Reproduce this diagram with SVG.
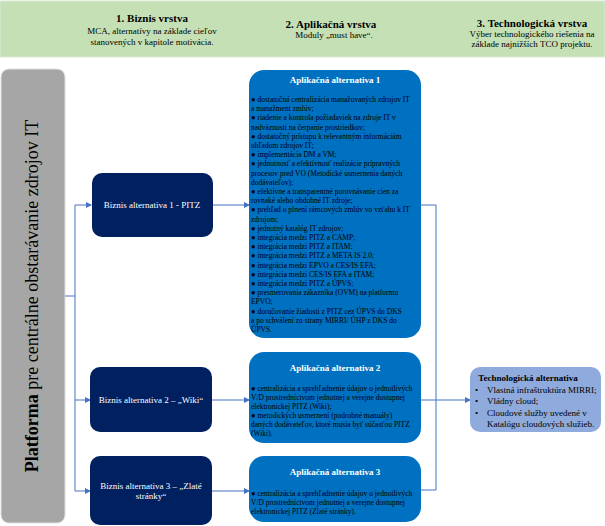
<svg xmlns="http://www.w3.org/2000/svg" width="605" height="526" viewBox="0 0 605 526">
<defs>
<marker id="arr" markerWidth="6" markerHeight="6" refX="5" refY="3" orient="auto" markerUnits="userSpaceOnUse">
<path d="M0,0 L6,3 L0,6 Z" fill="#4472C4"/>
</marker>
<style>
text{font-family:"Liberation Serif","Times New Roman",serif;}
.h{font-size:11px;font-weight:bold;fill:#000;text-anchor:middle;}
.hs{font-size:9px;fill:#000;text-anchor:middle;}
.biz{fill:#002060;}
.bt{font-size:9px;fill:#fff;text-anchor:middle;}
.app{fill:#0070C0;}
.at{font-size:9px;font-weight:bold;fill:#fff;text-anchor:middle;}
.ab{font-size:7.5px;fill:#000;}
.tt{font-size:9px;fill:#000;}
.con{fill:none;stroke:#4472C4;stroke-width:1;}
</style>
</defs>
<rect width="605" height="526" fill="#fff"/>
<g id="header">
<rect x="0" y="1" width="605" height="56" fill="#C5E0B4" stroke="#DDE8D6" stroke-width="1"/>
<text class="h" x="152" y="22">1. Biznis vrstva</text>
<text class="hs" x="152" y="34">MCA, alternatívy na základe cieľov</text>
<text class="hs" x="152" y="45">stanovených v kapitole motivácia.</text>
<text class="h" x="331" y="28">2. Aplikačná vrstva</text>
<text class="hs" x="334" y="38">Moduly „must have“.</text>
<text class="h" x="532" y="27">3. Technologická vrstva</text>
<text class="hs" x="532" y="37">Výber technologického riešenia na</text>
<text class="hs" x="532" y="47">základe najnižších TCO projektu.</text>
</g>
<g id="platforma">
<rect x="1" y="69" width="64" height="454" rx="8" fill="#A6A6A6" stroke="#E0E0E0" stroke-width="1"/>
<text transform="translate(38,296) rotate(-90)" text-anchor="middle" font-size="18" fill="#000"><tspan font-weight="bold">Platforma</tspan> pre centrálne obstarávanie zdrojov IT</text>
</g>
<g id="connectors">
<path class="con" d="M65,296 H75"/>
<path class="con" d="M75,205 V491"/>
<path class="con" d="M75,205 H91" marker-end="url(#arr)"/>
<path class="con" d="M75,400 H90" marker-end="url(#arr)"/>
<path class="con" d="M75,491 H90" marker-end="url(#arr)"/>
<path class="con" d="M213,205 H249" marker-end="url(#arr)"/>
<path class="con" d="M212,400 H249" marker-end="url(#arr)"/>
<path class="con" d="M212,491 H249" marker-end="url(#arr)"/>
<path class="con" d="M421,205 H436 V490 H421"/>
<path class="con" d="M421,400 H470" marker-end="url(#arr)"/>
</g>
<g id="biz1">
<rect class="biz" x="92" y="173" width="121" height="64" rx="10"/>
<text class="bt" x="152" y="208">Biznis alternativa 1 - PITZ</text>
</g>
<g id="biz2">
<rect class="biz" x="90" y="367" width="122" height="65" rx="10"/>
<text class="bt" x="151" y="403">Biznis alternativa 2 – „Wiki“</text>
</g>
<g id="biz3">
<rect class="biz" x="90" y="456" width="122" height="69" rx="10"/>
<text class="bt" x="151" y="489">Biznis alternativa 3 – „Zlaté</text>
<text class="bt" x="151" y="499">stránky“</text>
</g>
<g id="app1">
<rect class="app" x="249" y="70" width="172" height="268" rx="15"/>
<text class="at" x="335" y="83">Aplikačná alternativa 1</text>
<text class="ab">
<tspan x="251" y="102">● dostatočná centralizácia manažovaných zdrojov IT</tspan>
<tspan x="251" y="111.2">a manažment zmlúv;</tspan>
<tspan x="251" y="120.4">● riadenie a kontrola požiadaviek na zdroje IT v</tspan>
<tspan x="251" y="129.6"> nadväznosti na čerpanie prostriedkov;</tspan>
<tspan x="251" y="138.8">● dostatočný prístupu k relevantným informáciám</tspan>
<tspan x="251" y="148">ohľadom zdrojov IT;</tspan>
<tspan x="251" y="157.2">● implementácia DM a VM;</tspan>
<tspan x="251" y="166.4">● jednotnosť a efektívnosť realizácie prípravných</tspan>
<tspan x="251" y="175.6">procesov pred VO (Metodické usmernenia daných</tspan>
<tspan x="251" y="184.8">dodávateľov);</tspan>
<tspan x="251" y="194">● efektívne a transparentné porovnávanie cien za</tspan>
<tspan x="251" y="203.2">rovnaké alebo obdobné IT zdroje;</tspan>
<tspan x="251" y="212.4">● prehľad o plnení rámcových zmlúv vo vzťahu k IT</tspan>
<tspan x="251" y="221.6">zdrojom;</tspan>
<tspan x="251" y="230.8">● jednotný katalóg IT zdrojov;</tspan>
<tspan x="251" y="240">● integrácia medzi PITZ a  CAMP;</tspan>
<tspan x="251" y="249.2">● integrácia medzi PITZ a ITAM;</tspan>
<tspan x="251" y="258.4">● integrácia medzi PITZ a  META IS 2.0;</tspan>
<tspan x="251" y="267.6">● integrácia medzi EPVO a CES/IS EFA;</tspan>
<tspan x="251" y="276.8">● integrácia medzi CES/IS EFA a ITAM;</tspan>
<tspan x="251" y="286">● integrácia medzi PITZ a ÚPVS;</tspan>
<tspan x="251" y="295.2">● presmerovania zákazníka (OVM) na platformu</tspan>
<tspan x="251" y="304.4">EPVO;</tspan>
<tspan x="251" y="313.6">● doručovanie žiadosti z PITZ cez ÚPVS do DKS</tspan>
<tspan x="251" y="322.8">a po schválení zo strany MIRRI/ ÚHP z DKS do</tspan>
<tspan x="251" y="332">ÚPVS.</tspan>
</text>
</g>
<g id="app2">
<rect class="app" x="249" y="352" width="172" height="91" rx="15"/>
<text class="at" x="335" y="371">Aplikačná alternativa 2</text>
<text class="ab">
<tspan x="251" y="391">● centralizácia a sprehľadnenie údajov o jednotlivých</tspan>
<tspan x="251" y="400">V/D prostredníctvom jednotnej a verejne dostupnej</tspan>
<tspan x="251" y="409">elektronickej PITZ (Wiki);</tspan>
<tspan x="251" y="418">● metodických usmernení (podrobné manuály)</tspan>
<tspan x="251" y="427">daných dodávateľov, ktoré musia byť súčasťou PITZ</tspan>
<tspan x="251" y="436">(Wiki).</tspan>
</text>
</g>
<g id="app3">
<rect class="app" x="249" y="456" width="172" height="66" rx="15"/>
<text class="at" x="335" y="475">Aplikačná alternativa 3</text>
<text class="ab">
<tspan x="251" y="496">● centralizácia a sprehľadnenie údajov o jednotlivých</tspan>
<tspan x="251" y="505">V/D prostredníctvom jednotnej a verejne dostupnej</tspan>
<tspan x="251" y="514">elektronickej PITZ (Zlaté stránky).</tspan>
</text>
</g>
<g id="tech">
<rect x="470" y="367" width="131" height="65" rx="10" fill="#8FAADC"/>
<text class="tt" x="528" y="381" font-weight="bold" text-anchor="middle">Technologická alternativa</text>
<text class="tt" x="475" y="393">•</text>
<text class="tt" x="487" y="393">Vlastná infraštruktúra MIRRI;</text>
<text class="tt" x="475" y="404">•</text>
<text class="tt" x="487" y="404">Vládny cloud;</text>
<text class="tt" x="475" y="416">•</text>
<text class="tt" x="487" y="416">Cloudové služby uvedené v</text>
<text class="tt" x="487" y="427">Katalógu cloudových služieb.</text>
</g>
</svg>
